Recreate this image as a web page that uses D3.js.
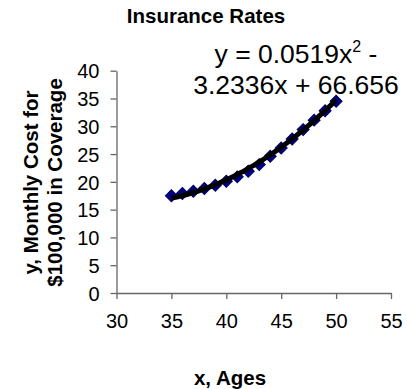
<!DOCTYPE html>
<html><head><meta charset="utf-8">
<script src="https://cdn.jsdelivr.net/npm/d3@7"></script>
<style>body{margin:0;background:#fff}svg{display:block;font-family:Arial,"Liberation Sans",sans-serif}</style>
</head><body><svg id="c" width="407" height="389"></svg>
<script>
const ages = [35,36,37,38,39,40,41,42,43,44,45,46,47,48,49,50];
const costs = [17.5,17.9,18.3,18.8,19.4,20.1,20.9,21.9,23.1,24.6,26.1,27.7,29.4,31.1,32.8,34.5];
const coefA = 0.0519, coefB = -3.2336, coefC = 66.656;
const xTicks = [30,35,40,45,50,55];
const yTicks = [0,5,10,15,20,25,30,35,40];

const svg = d3.select("#c");
const x = d3.scaleLinear().domain([30,55]).range([116.5,391]);
const y = d3.scaleLinear().domain([0,40]).range([293,70.7]);
const FONT = "Arial, Liberation Sans, sans-serif";

const xAxis = svg.append("g").attr("transform","translate(0,293)")
  .call(d3.axisBottom(x).tickValues(xTicks).tickSize(6).tickPadding(15).tickSizeOuter(0));
const yAxis = svg.append("g").attr("transform","translate(116.5,0)")
  .call(d3.axisLeft(y).tickValues(yTicks).tickSize(6).tickPadding(11).tickSizeOuter(0));
[xAxis,yAxis].forEach(g=>{
  g.select(".domain").attr("stroke","#666").attr("stroke-width",1.3);
  g.selectAll(".tick line").attr("stroke","#666").attr("stroke-width",1.3);
  g.selectAll("text").attr("font-size",20).attr("fill","#000").attr("font-family",FONT);
});
yAxis.selectAll("text").attr("dy","0.36em");

// markers (diamonds)
svg.append("g").selectAll("path").data(ages).join("path")
  .attr("d", d3.symbol().type(d3.symbolSquare).size(72)())
  .attr("transform",(d,i)=>`translate(${x(d)},${y(costs[i])}) rotate(45)`)
  .attr("fill","#000080").attr("stroke","#000066").attr("stroke-width",1);

// polynomial trendline
const tx = d3.range(35,50.01,0.25);
svg.append("path").datum(tx)
  .attr("d", d3.line().x(d=>x(d)).y(d=>y(coefA*d*d+coefB*d+coefC)))
  .attr("fill","none").attr("stroke","#000").attr("stroke-width",5);

// title
svg.append("text").attr("x",206).attr("y",23).attr("text-anchor","middle")
  .attr("font-size",20.5).attr("font-weight","bold").text("Insurance Rates");

// equation
const eq = svg.append("text").attr("x",296).attr("y",63).attr("text-anchor","middle").attr("font-size",26.5);
eq.append("tspan").text("y = 0.0519x");
eq.append("tspan").attr("font-size",16).attr("dy",-11).text("2");
eq.append("tspan").attr("dy",11).text(" -");
svg.append("text").attr("x",296).attr("y",94).attr("text-anchor","middle").attr("font-size",26.5)
  .text("3.2336x + 66.656");

// y label
const yl = svg.append("text").attr("transform","translate(0,182.5) rotate(-90)")
  .attr("text-anchor","middle").attr("font-size",20.5).attr("font-weight","bold");
yl.append("tspan").attr("x",0).attr("y",38).text("y, Monthly Cost for");
yl.append("tspan").attr("x",0).attr("y",62).text("$100,000 in Coverage");

// x label
svg.append("text").attr("x",230).attr("y",385).attr("text-anchor","middle")
  .attr("font-size",20.5).attr("font-weight","bold").text("x, Ages");
</script></body></html>
